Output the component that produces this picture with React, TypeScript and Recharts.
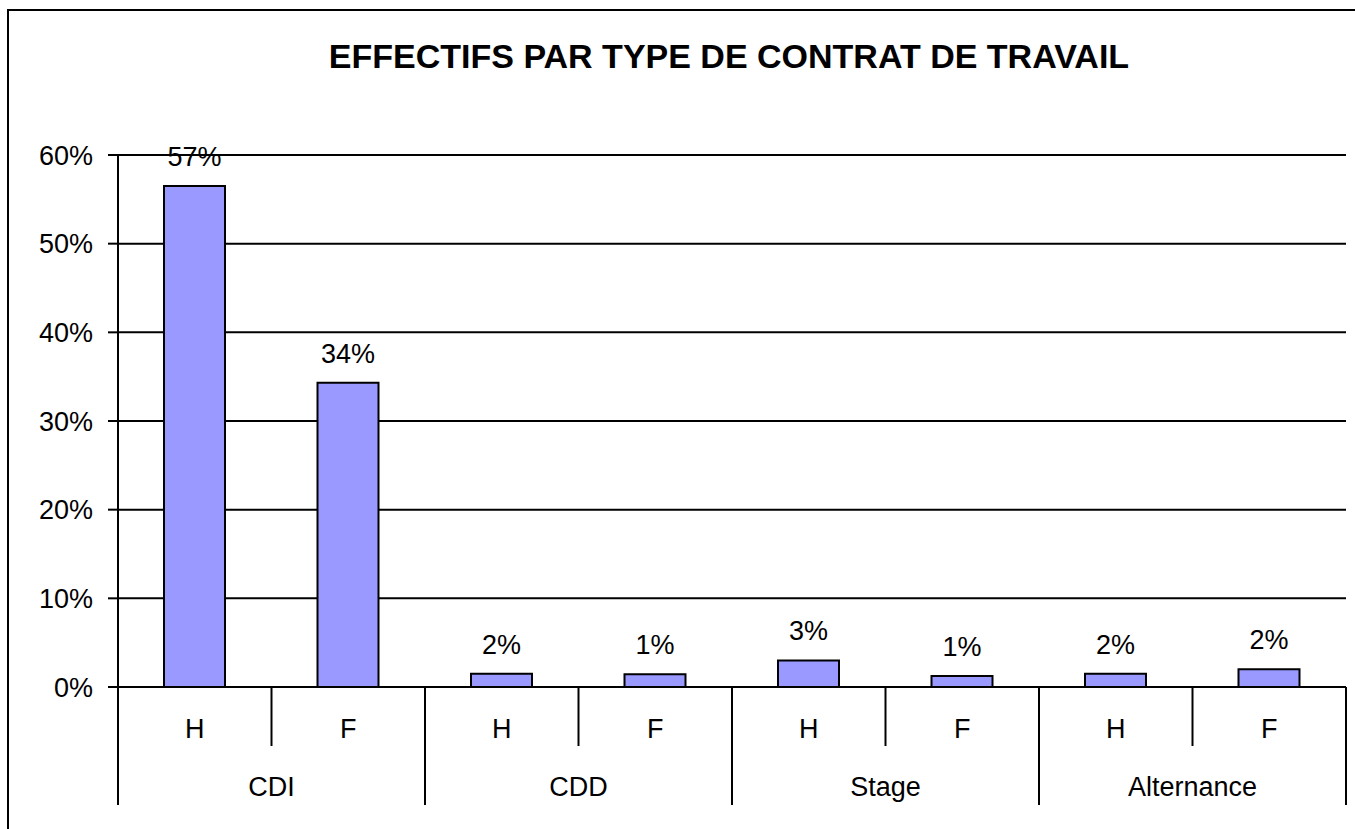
import React from "react";
import { BarChart, Bar, XAxis, YAxis, CartesianGrid, LabelList } from "recharts";

const groups = ["CDI", "CDD", "Stage", "Alternance"];
const sexes = ["H", "F"];
const valuesH = [56.5, 1.5, 3.0, 1.5];
const valuesF = [34.3, 1.45, 1.25, 2.0];
const labelsH = ["57%", "2%", "3%", "2%"];
const labelsF = ["34%", "1%", "1%", "2%"];
const yTicks = [0, 10, 20, 30, 40, 50, 60];
const title = "EFFECTIFS PAR TYPE DE CONTRAT DE TRAVAIL";

const data = groups.flatMap((g, i) => [
  { key: `${g}-H`, group: g, sex: sexes[0], value: valuesH[i], label: labelsH[i] },
  { key: `${g}-F`, group: g, sex: sexes[1], value: valuesF[i], label: labelsF[i] },
]);

const FONT = "'Liberation Sans', Arial, Helvetica, sans-serif";
const CHART_W = 1355;
const CHART_H = 829;
const MARGIN = { top: 155, right: 9, bottom: 0, left: 0 };
const Y_AXIS_W = 118;
const X_AXIS_H = 142;
const PLOT_W = CHART_W - MARGIN.left - MARGIN.right - Y_AXIS_W;
const PLOT_BOTTOM = CHART_H - MARGIN.bottom - X_AXIS_H;
const FS = 27;

const XTick = (props: any) => {
  const { x, index, payload } = props;
  const band = PLOT_W / data.length;
  const row = data[index] || data[payload?.index ?? 0];
  const isFirstInGroup = index % 2 === 0;
  const isLast = index === data.length - 1;
  return (
    <g>
      <text x={x} y={PLOT_BOTTOM + 51} textAnchor="middle" fill="#000" fontSize={FS} fontFamily={FONT}>
        {row.sex}
      </text>
      {isFirstInGroup && (
        <>
          <line x1={x + band / 2} x2={x + band / 2} y1={PLOT_BOTTOM} y2={PLOT_BOTTOM + 59} stroke="#000" strokeWidth={2} />
          <line x1={x - band / 2} x2={x - band / 2} y1={PLOT_BOTTOM} y2={PLOT_BOTTOM + 118} stroke="#000" strokeWidth={2} />
          <text x={x + band / 2} y={PLOT_BOTTOM + 109} textAnchor="middle" fill="#000" fontSize={FS} fontFamily={FONT}>
            {row.group}
          </text>
        </>
      )}
      {isLast && (
        <line x1={x + band / 2} x2={x + band / 2} y1={PLOT_BOTTOM} y2={PLOT_BOTTOM + 118} stroke="#000" strokeWidth={2} />
      )}
    </g>
  );
};

export default function App() {
  return (
    <div style={{ position: "fixed", left: 0, top: 0, width: CHART_W, height: CHART_H, overflow: "hidden", background: "#fff" }}>
      <div style={{ position: "absolute", left: 7, top: 9, width: 1500, height: 1000, borderLeft: "2px solid #000", borderTop: "2px solid #000" }} />
      <div
        style={{
          position: "absolute",
          left: 0,
          top: 39,
          width: 1458,
          textAlign: "center",
          fontFamily: FONT,
          fontWeight: "bold",
          fontSize: 34,
          lineHeight: "34px",
          color: "#000",
          whiteSpace: "nowrap",
        }}
      >
        {title}
      </div>
      <div style={{ position: "absolute", left: 0, top: 0 }}>
        <BarChart width={CHART_W} height={CHART_H} data={data} margin={MARGIN} barSize={61}>
          <CartesianGrid horizontal={true} vertical={false} stroke="#000" strokeWidth={2} />
          <XAxis
            dataKey="key"
            height={X_AXIS_H}
            interval={0}
            tickLine={false}
            axisLine={{ stroke: "#000", strokeWidth: 2 }}
            tick={<XTick />}
          />
          <YAxis
            width={Y_AXIS_W}
            domain={[0, 60]}
            ticks={yTicks}
            interval={0}
            tickSize={10}
            tickMargin={15}
            tickFormatter={(v: number) => `${v}%`}
            axisLine={{ stroke: "#000", strokeWidth: 2 }}
            tickLine={{ stroke: "#000", strokeWidth: 2 }}
            tick={{ fill: "#000", fontSize: FS, fontFamily: FONT }}
          />
          <Bar dataKey="value" fill="#9999FF" stroke="#000" strokeWidth={2} isAnimationActive={false}>
            <LabelList dataKey="label" position="top" offset={20} fill="#000" fontSize={FS} fontFamily={FONT} />
          </Bar>
        </BarChart>
      </div>
    </div>
  );
}
